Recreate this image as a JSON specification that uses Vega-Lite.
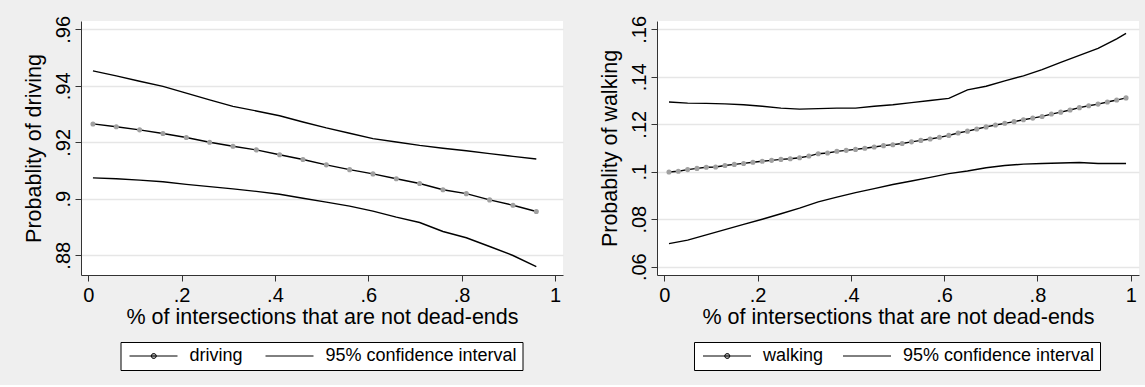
{
  "$schema": "https://vega.github.io/schema/vega-lite/v6.json",
  "background": "#efefef",
  "padding": {"left": 23, "top": 15, "right": 6, "bottom": 14},
  "spacing": 35,
  "datasets": {
    "drive": [
      {"x": 0.01, "y": 0.9265, "series": "driving", "band": "main"},
      {"x": 0.06, "y": 0.9255, "series": "driving", "band": "main"},
      {"x": 0.11, "y": 0.9244, "series": "driving", "band": "main"},
      {"x": 0.16, "y": 0.9231, "series": "driving", "band": "main"},
      {"x": 0.21, "y": 0.9217, "series": "driving", "band": "main"},
      {"x": 0.26, "y": 0.9200, "series": "driving", "band": "main"},
      {"x": 0.31, "y": 0.9186, "series": "driving", "band": "main"},
      {"x": 0.36, "y": 0.9173, "series": "driving", "band": "main"},
      {"x": 0.41, "y": 0.9156, "series": "driving", "band": "main"},
      {"x": 0.46, "y": 0.9139, "series": "driving", "band": "main"},
      {"x": 0.51, "y": 0.9120, "series": "driving", "band": "main"},
      {"x": 0.56, "y": 0.9103, "series": "driving", "band": "main"},
      {"x": 0.61, "y": 0.9088, "series": "driving", "band": "main"},
      {"x": 0.66, "y": 0.9071, "series": "driving", "band": "main"},
      {"x": 0.71, "y": 0.9054, "series": "driving", "band": "main"},
      {"x": 0.76, "y": 0.9032, "series": "driving", "band": "main"},
      {"x": 0.81, "y": 0.9018, "series": "driving", "band": "main"},
      {"x": 0.86, "y": 0.8996, "series": "driving", "band": "main"},
      {"x": 0.91, "y": 0.8977, "series": "driving", "band": "main"},
      {"x": 0.96, "y": 0.8955, "series": "driving", "band": "main"},
      {"x": 0.01, "y": 0.9453, "series": "95% confidence interval", "band": "upper"},
      {"x": 0.06, "y": 0.9435, "series": "95% confidence interval", "band": "upper"},
      {"x": 0.11, "y": 0.9416, "series": "95% confidence interval", "band": "upper"},
      {"x": 0.16, "y": 0.9398, "series": "95% confidence interval", "band": "upper"},
      {"x": 0.21, "y": 0.9374, "series": "95% confidence interval", "band": "upper"},
      {"x": 0.26, "y": 0.9350, "series": "95% confidence interval", "band": "upper"},
      {"x": 0.31, "y": 0.9327, "series": "95% confidence interval", "band": "upper"},
      {"x": 0.36, "y": 0.9311, "series": "95% confidence interval", "band": "upper"},
      {"x": 0.41, "y": 0.9294, "series": "95% confidence interval", "band": "upper"},
      {"x": 0.46, "y": 0.9272, "series": "95% confidence interval", "band": "upper"},
      {"x": 0.51, "y": 0.9251, "series": "95% confidence interval", "band": "upper"},
      {"x": 0.56, "y": 0.9232, "series": "95% confidence interval", "band": "upper"},
      {"x": 0.61, "y": 0.9213, "series": "95% confidence interval", "band": "upper"},
      {"x": 0.66, "y": 0.9201, "series": "95% confidence interval", "band": "upper"},
      {"x": 0.71, "y": 0.9189, "series": "95% confidence interval", "band": "upper"},
      {"x": 0.76, "y": 0.9179, "series": "95% confidence interval", "band": "upper"},
      {"x": 0.81, "y": 0.9170, "series": "95% confidence interval", "band": "upper"},
      {"x": 0.86, "y": 0.9160, "series": "95% confidence interval", "band": "upper"},
      {"x": 0.91, "y": 0.9150, "series": "95% confidence interval", "band": "upper"},
      {"x": 0.96, "y": 0.9141, "series": "95% confidence interval", "band": "upper"},
      {"x": 0.01, "y": 0.9074, "series": "95% confidence interval", "band": "lower"},
      {"x": 0.06, "y": 0.9071, "series": "95% confidence interval", "band": "lower"},
      {"x": 0.11, "y": 0.9066, "series": "95% confidence interval", "band": "lower"},
      {"x": 0.16, "y": 0.9060, "series": "95% confidence interval", "band": "lower"},
      {"x": 0.21, "y": 0.9051, "series": "95% confidence interval", "band": "lower"},
      {"x": 0.26, "y": 0.9043, "series": "95% confidence interval", "band": "lower"},
      {"x": 0.31, "y": 0.9035, "series": "95% confidence interval", "band": "lower"},
      {"x": 0.36, "y": 0.9026, "series": "95% confidence interval", "band": "lower"},
      {"x": 0.41, "y": 0.9016, "series": "95% confidence interval", "band": "lower"},
      {"x": 0.46, "y": 0.9002, "series": "95% confidence interval", "band": "lower"},
      {"x": 0.51, "y": 0.8988, "series": "95% confidence interval", "band": "lower"},
      {"x": 0.56, "y": 0.8974, "series": "95% confidence interval", "band": "lower"},
      {"x": 0.61, "y": 0.8956, "series": "95% confidence interval", "band": "lower"},
      {"x": 0.66, "y": 0.8935, "series": "95% confidence interval", "band": "lower"},
      {"x": 0.71, "y": 0.8916, "series": "95% confidence interval", "band": "lower"},
      {"x": 0.76, "y": 0.8884, "series": "95% confidence interval", "band": "lower"},
      {"x": 0.81, "y": 0.8862, "series": "95% confidence interval", "band": "lower"},
      {"x": 0.86, "y": 0.8831, "series": "95% confidence interval", "band": "lower"},
      {"x": 0.91, "y": 0.8799, "series": "95% confidence interval", "band": "lower"},
      {"x": 0.96, "y": 0.8760, "series": "95% confidence interval", "band": "lower"}
    ],
    "walk": [
      {"x": 0.01, "y": 0.0999, "series": "walking", "band": "main"},
      {"x": 0.03, "y": 0.1002, "series": "walking", "band": "main"},
      {"x": 0.05, "y": 0.1009, "series": "walking", "band": "main"},
      {"x": 0.07, "y": 0.1014, "series": "walking", "band": "main"},
      {"x": 0.09, "y": 0.1019, "series": "walking", "band": "main"},
      {"x": 0.11, "y": 0.1020, "series": "walking", "band": "main"},
      {"x": 0.13, "y": 0.1026, "series": "walking", "band": "main"},
      {"x": 0.15, "y": 0.1031, "series": "walking", "band": "main"},
      {"x": 0.17, "y": 0.1035, "series": "walking", "band": "main"},
      {"x": 0.19, "y": 0.1040, "series": "walking", "band": "main"},
      {"x": 0.21, "y": 0.1044, "series": "walking", "band": "main"},
      {"x": 0.23, "y": 0.1048, "series": "walking", "band": "main"},
      {"x": 0.25, "y": 0.1052, "series": "walking", "band": "main"},
      {"x": 0.27, "y": 0.1055, "series": "walking", "band": "main"},
      {"x": 0.29, "y": 0.1059, "series": "walking", "band": "main"},
      {"x": 0.31, "y": 0.1066, "series": "walking", "band": "main"},
      {"x": 0.33, "y": 0.1076, "series": "walking", "band": "main"},
      {"x": 0.35, "y": 0.1079, "series": "walking", "band": "main"},
      {"x": 0.37, "y": 0.1086, "series": "walking", "band": "main"},
      {"x": 0.39, "y": 0.1090, "series": "walking", "band": "main"},
      {"x": 0.41, "y": 0.1094, "series": "walking", "band": "main"},
      {"x": 0.43, "y": 0.1099, "series": "walking", "band": "main"},
      {"x": 0.45, "y": 0.1104, "series": "walking", "band": "main"},
      {"x": 0.47, "y": 0.1110, "series": "walking", "band": "main"},
      {"x": 0.49, "y": 0.1114, "series": "walking", "band": "main"},
      {"x": 0.51, "y": 0.1119, "series": "walking", "band": "main"},
      {"x": 0.53, "y": 0.1126, "series": "walking", "band": "main"},
      {"x": 0.55, "y": 0.1132, "series": "walking", "band": "main"},
      {"x": 0.57, "y": 0.1138, "series": "walking", "band": "main"},
      {"x": 0.59, "y": 0.1145, "series": "walking", "band": "main"},
      {"x": 0.61, "y": 0.1153, "series": "walking", "band": "main"},
      {"x": 0.63, "y": 0.1163, "series": "walking", "band": "main"},
      {"x": 0.65, "y": 0.1171, "series": "walking", "band": "main"},
      {"x": 0.67, "y": 0.1180, "series": "walking", "band": "main"},
      {"x": 0.69, "y": 0.1189, "series": "walking", "band": "main"},
      {"x": 0.71, "y": 0.1197, "series": "walking", "band": "main"},
      {"x": 0.73, "y": 0.1204, "series": "walking", "band": "main"},
      {"x": 0.75, "y": 0.1211, "series": "walking", "band": "main"},
      {"x": 0.77, "y": 0.1219, "series": "walking", "band": "main"},
      {"x": 0.79, "y": 0.1226, "series": "walking", "band": "main"},
      {"x": 0.81, "y": 0.1233, "series": "walking", "band": "main"},
      {"x": 0.83, "y": 0.1243, "series": "walking", "band": "main"},
      {"x": 0.85, "y": 0.1251, "series": "walking", "band": "main"},
      {"x": 0.87, "y": 0.1260, "series": "walking", "band": "main"},
      {"x": 0.89, "y": 0.1270, "series": "walking", "band": "main"},
      {"x": 0.91, "y": 0.1278, "series": "walking", "band": "main"},
      {"x": 0.93, "y": 0.1285, "series": "walking", "band": "main"},
      {"x": 0.95, "y": 0.1294, "series": "walking", "band": "main"},
      {"x": 0.97, "y": 0.1302, "series": "walking", "band": "main"},
      {"x": 0.99, "y": 0.1311, "series": "walking", "band": "main"},
      {"x": 0.01, "y": 0.1294, "series": "95% confidence interval", "band": "upper"},
      {"x": 0.05, "y": 0.1289, "series": "95% confidence interval", "band": "upper"},
      {"x": 0.09, "y": 0.1288, "series": "95% confidence interval", "band": "upper"},
      {"x": 0.13, "y": 0.1286, "series": "95% confidence interval", "band": "upper"},
      {"x": 0.17, "y": 0.1282, "series": "95% confidence interval", "band": "upper"},
      {"x": 0.21, "y": 0.1276, "series": "95% confidence interval", "band": "upper"},
      {"x": 0.25, "y": 0.1268, "series": "95% confidence interval", "band": "upper"},
      {"x": 0.29, "y": 0.1264, "series": "95% confidence interval", "band": "upper"},
      {"x": 0.33, "y": 0.1266, "series": "95% confidence interval", "band": "upper"},
      {"x": 0.37, "y": 0.1268, "series": "95% confidence interval", "band": "upper"},
      {"x": 0.41, "y": 0.1268, "series": "95% confidence interval", "band": "upper"},
      {"x": 0.45, "y": 0.1276, "series": "95% confidence interval", "band": "upper"},
      {"x": 0.49, "y": 0.1282, "series": "95% confidence interval", "band": "upper"},
      {"x": 0.53, "y": 0.1291, "series": "95% confidence interval", "band": "upper"},
      {"x": 0.57, "y": 0.1300, "series": "95% confidence interval", "band": "upper"},
      {"x": 0.61, "y": 0.1309, "series": "95% confidence interval", "band": "upper"},
      {"x": 0.65, "y": 0.1345, "series": "95% confidence interval", "band": "upper"},
      {"x": 0.69, "y": 0.1360, "series": "95% confidence interval", "band": "upper"},
      {"x": 0.73, "y": 0.1383, "series": "95% confidence interval", "band": "upper"},
      {"x": 0.77, "y": 0.1404, "series": "95% confidence interval", "band": "upper"},
      {"x": 0.81, "y": 0.1430, "series": "95% confidence interval", "band": "upper"},
      {"x": 0.85, "y": 0.1461, "series": "95% confidence interval", "band": "upper"},
      {"x": 0.89, "y": 0.1490, "series": "95% confidence interval", "band": "upper"},
      {"x": 0.93, "y": 0.1520, "series": "95% confidence interval", "band": "upper"},
      {"x": 0.97, "y": 0.1560, "series": "95% confidence interval", "band": "upper"},
      {"x": 0.99, "y": 0.1583, "series": "95% confidence interval", "band": "upper"},
      {"x": 0.01, "y": 0.0697, "series": "95% confidence interval", "band": "lower"},
      {"x": 0.05, "y": 0.0712, "series": "95% confidence interval", "band": "lower"},
      {"x": 0.09, "y": 0.0734, "series": "95% confidence interval", "band": "lower"},
      {"x": 0.13, "y": 0.0756, "series": "95% confidence interval", "band": "lower"},
      {"x": 0.17, "y": 0.0778, "series": "95% confidence interval", "band": "lower"},
      {"x": 0.21, "y": 0.0800, "series": "95% confidence interval", "band": "lower"},
      {"x": 0.25, "y": 0.0823, "series": "95% confidence interval", "band": "lower"},
      {"x": 0.29, "y": 0.0847, "series": "95% confidence interval", "band": "lower"},
      {"x": 0.33, "y": 0.0873, "series": "95% confidence interval", "band": "lower"},
      {"x": 0.37, "y": 0.0893, "series": "95% confidence interval", "band": "lower"},
      {"x": 0.41, "y": 0.0912, "series": "95% confidence interval", "band": "lower"},
      {"x": 0.45, "y": 0.0929, "series": "95% confidence interval", "band": "lower"},
      {"x": 0.49, "y": 0.0946, "series": "95% confidence interval", "band": "lower"},
      {"x": 0.53, "y": 0.0961, "series": "95% confidence interval", "band": "lower"},
      {"x": 0.57, "y": 0.0976, "series": "95% confidence interval", "band": "lower"},
      {"x": 0.61, "y": 0.0992, "series": "95% confidence interval", "band": "lower"},
      {"x": 0.65, "y": 0.1003, "series": "95% confidence interval", "band": "lower"},
      {"x": 0.69, "y": 0.1017, "series": "95% confidence interval", "band": "lower"},
      {"x": 0.73, "y": 0.1026, "series": "95% confidence interval", "band": "lower"},
      {"x": 0.77, "y": 0.1032, "series": "95% confidence interval", "band": "lower"},
      {"x": 0.81, "y": 0.1035, "series": "95% confidence interval", "band": "lower"},
      {"x": 0.85, "y": 0.1037, "series": "95% confidence interval", "band": "lower"},
      {"x": 0.89, "y": 0.1039, "series": "95% confidence interval", "band": "lower"},
      {"x": 0.93, "y": 0.1035, "series": "95% confidence interval", "band": "lower"},
      {"x": 0.97, "y": 0.1035, "series": "95% confidence interval", "band": "lower"},
      {"x": 0.99, "y": 0.1035, "series": "95% confidence interval", "band": "lower"}
    ]
  },
  "hconcat": [
    {
      "width": 482,
      "height": 254,
      "data": {"name": "drive"},
      "layer": [
        {
          "mark": {"type": "line", "strokeWidth": 1.4},
          "encoding": {
            "x": {"field": "x", "type": "quantitative",
              "scale": {"domain": [-0.0156, 1.0172], "nice": false, "zero": false},
              "axis": {"values": [0, 0.2, 0.4, 0.6, 0.8, 1], "title": "% of intersections that are not dead-ends",
                "labelExpr": "replace(format(datum.value, '~g'), '0.', '.')"}},
            "y": {"field": "y", "type": "quantitative",
              "scale": {"domain": [0.873, 0.96295], "nice": false, "zero": false},
              "axis": {"values": [0.88, 0.9, 0.92, 0.94, 0.96], "title": "Probablity of driving",
                "labelExpr": "replace(format(datum.value, '~g'), '0.', '.')"}},
            "detail": {"field": "band"},
            "color": {"field": "series", "type": "nominal",
              "scale": {"domain": ["driving", "95% confidence interval"], "range": ["black", "black"]},
              "legend": {"orient": "none", "legendX": 39.5, "legendY": 321,
                "encode": {"symbols": {"update": {
                  "shape": {"signal": "datum.value === 'driving' ? 'M-1,0H8.6M3.35,0A0.5,0.5,0,1,0,4.35,0A0.5,0.5,0,1,0,3.35,0Z' : 'M-1,0H8.6'"},
                  "fill": {"value": "#a8a8a8"},
                  "stroke": {"value": "black"},
                  "strokeWidth": {"value": 1}
                }}}}}
          }
        },
        {
          "transform": [{"filter": "datum.band === 'main'"}],
          "mark": {"type": "point", "filled": true, "color": "#a0a0a0", "size": 26, "opacity": 1},
          "encoding": {
            "x": {"field": "x", "type": "quantitative"},
            "y": {"field": "y", "type": "quantitative"}
          }
        }
      ]
    },
    {
      "width": 482,
      "height": 254,
      "data": {"name": "walk"},
      "layer": [
        {
          "mark": {"type": "line", "strokeWidth": 1.4},
          "encoding": {
            "x": {"field": "x", "type": "quantitative",
              "scale": {"domain": [-0.0157, 1.0178], "nice": false, "zero": false},
              "axis": {"values": [0, 0.2, 0.4, 0.6, 0.8, 1], "title": "% of intersections that are not dead-ends",
                "labelExpr": "replace(format(datum.value, '~g'), '0.', '.')"}},
            "y": {"field": "y", "type": "quantitative",
              "scale": {"domain": [0.05649, 0.16351], "nice": false, "zero": false},
              "axis": {"values": [0.06, 0.08, 0.1, 0.12, 0.14, 0.16], "title": "Probablity of walking",
                "labelExpr": "replace(format(datum.value, '~g'), '0.', '.')"}},
            "detail": {"field": "band"},
            "color": {"field": "series", "type": "nominal",
              "scale": {"domain": ["walking", "95% confidence interval"], "range": ["black", "black"]},
              "legend": {"orient": "none", "legendX": 37, "legendY": 321, "columnPadding": 15,
                "encode": {"symbols": {"update": {
                  "shape": {"signal": "datum.value === 'walking' ? 'M-1,0H8.6M3.35,0A0.5,0.5,0,1,0,4.35,0A0.5,0.5,0,1,0,3.35,0Z' : 'M-1,0H8.6'"},
                  "fill": {"value": "#a8a8a8"},
                  "stroke": {"value": "black"},
                  "strokeWidth": {"value": 1}
                }}}}}
          }
        },
        {
          "transform": [{"filter": "datum.band === 'main'"}],
          "mark": {"type": "point", "filled": true, "color": "#a0a0a0", "size": 26, "opacity": 1},
          "encoding": {
            "x": {"field": "x", "type": "quantitative"},
            "y": {"field": "y", "type": "quantitative"}
          }
        }
      ]
    }
  ],
  "resolve": {"scale": {"color": "independent"}, "legend": {"color": "independent"}},
  "config": {
    "font": "Liberation Sans",
    "view": {"fill": "white", "stroke": null},
    "axis": {
      "domainColor": "#333333", "tickColor": "#333333", "tickSize": 6, "domainWidth": 1, "tickWidth": 1,
      "labelFont": "Liberation Sans", "labelFontSize": 20, "labelColor": "black", "labelPadding": 4,
      "titleFont": "Liberation Sans", "titleFontSize": 21.5, "titleFontWeight": "normal", "titleColor": "black",
      "gridColor": "#e6e6e6", "gridWidth": 1.5, "labelOverlap": false, "labelFlush": false
    },
    "axisX": {"grid": false, "titlePadding": 1},
    "axisY": {"grid": true, "labelAngle": 270, "labelAlign": "center", "labelBaseline": "bottom", "labelPadding": 2, "titlePadding": 8},
    "legend": {
      "title": null, "direction": "horizontal", "strokeColor": "black", "fillColor": "white",
      "padding": 5, "columnPadding": 18, "labelFont": "Liberation Sans", "labelFontSize": 18, "labelColor": "black",
      "labelLimit": 0, "symbolSize": 100, "labelOffset": 46, "cornerRadius": 0
    }
  }
}
